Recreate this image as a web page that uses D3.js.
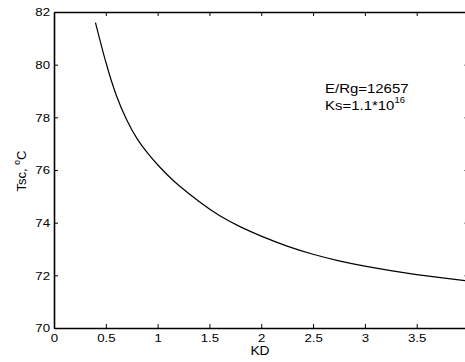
<!DOCTYPE html>
<meta charset="utf-8">
<style>
body { margin: 0; background: #fff; }
svg { font-family: "Liberation Sans", Arial, sans-serif; }
.axis path, .axis line { stroke: #000; }
.axis text { font-size: 11.5px; fill: #000; }
</style>
<svg width="465" height="362"></svg>
<script src="https://d3js.org/d3.v7.min.js"></script>
<script>

// values
var kd = [0.4, 0.5, 0.6, 0.7, 0.8, 0.9, 1.0, 1.1, 1.2, 1.4, 1.6, 1.8, 2.0, 2.25, 2.5, 2.75, 3.0, 3.25, 3.5, 3.75, 4.0];
var tsc = [81.6, 80.1, 78.85, 77.92, 77.2, 76.66, 76.2, 75.79, 75.43, 74.8, 74.26, 73.84, 73.49, 73.11, 72.8, 72.55, 72.35, 72.18, 72.03, 71.9, 71.78];
var xTicks = [0, 0.5, 1, 1.5, 2, 2.5, 3, 3.5];
var yTicks = [70, 72, 74, 76, 78, 80, 82];

var svg = d3.select("svg");

var x = d3.scaleLinear().domain([0, 4]).range([54, 468.5]),
    y = d3.scaleLinear().domain([70, 82]).range([328, 12]);

var data = kd.map(function(k, i) { return {kd: k, t: tsc[i]}; });

// axes, ticks pointing inward like matlab
svg.append("g")
    .attr("class", "axis")
    .attr("transform", "translate(0," + y(70) + ")")
    .call(d3.axisBottom(x).tickValues(xTicks).tickSizeInner(-4).tickSizeOuter(0).tickPadding(6).tickFormat(d3.format("")))
    .call(function(g) { g.select(".domain").attr("stroke-width", 1.6); });

svg.append("g")
    .attr("class", "axis")
    .attr("transform", "translate(0," + y(82) + ")")
    .call(d3.axisTop(x).tickValues(xTicks).tickSizeInner(-4).tickSizeOuter(0).tickFormat(""))
    .call(function(g) { g.select(".domain").attr("stroke-width", 1.6); });

svg.append("g")
    .attr("class", "axis")
    .attr("transform", "translate(" + x(0) + ",0)")
    .call(d3.axisLeft(y).tickValues(yTicks).tickSizeInner(-4).tickSizeOuter(0).tickPadding(4))
    .call(function(g) { g.select(".domain").attr("stroke-width", 1.6); });

svg.append("g")
    .attr("class", "axis")
    .attr("transform", "translate(" + x(4) + ",0)")
    .call(d3.axisRight(y).tickValues(yTicks).tickSizeInner(-4).tickSizeOuter(0).tickFormat(""));

// curve
svg.append("path")
    .datum(data)
    .attr("fill", "none")
    .attr("stroke", "#000")
    .attr("stroke-width", 1.2)
    .attr("d", d3.line()
        .x(function(d) { return x(d.kd); })
        .y(function(d) { return y(d.t); })
        .curve(d3.curveNatural));

// labels
svg.append("text")
    .attr("class", "wide")
    .attr("x", 260)
    .attr("y", 355)
    .attr("text-anchor", "middle")
    .attr("font-size", 12)
    .text("KD");

var yl = svg.append("text")
    .attr("transform", "translate(26,171) rotate(-90)")
    .attr("text-anchor", "middle")
    .attr("font-size", 13);
yl.append("tspan").text("Tsc, ");
yl.append("tspan").attr("font-size", 8.5).attr("dy", -6).text("o");
yl.append("tspan").attr("dy", 6).text("C");

svg.append("text")
    .attr("class", "wide")
    .attr("x", 325)
    .attr("y", 93)
    .attr("font-size", 13)
    .text("E/Rg=12657");

var ks = svg.append("text")
    .attr("x", 325)
    .attr("y", 110)
    .attr("font-size", 13);
ks.append("tspan").attr("class", "wide").text("Ks=1.1*10");
ks.append("tspan").attr("font-size", 9.5).attr("dy", -7).text("16");

// the original glyphs are a bit wider than Liberation Sans
svg.selectAll(".axis text, text.wide").each(function() {
    var w = this.getComputedTextLength();
    if (w > 0) d3.select(this).attr("textLength", w * 1.15).attr("lengthAdjust", "spacingAndGlyphs");
});
svg.selectAll("tspan.wide").each(function() {
    var w = this.getComputedTextLength();
    d3.select(this).attr("textLength", w * 1.15).attr("lengthAdjust", "spacingAndGlyphs");
});

</script>
